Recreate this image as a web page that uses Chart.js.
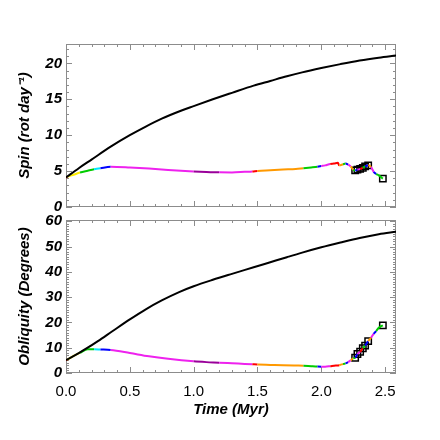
<!DOCTYPE html>
<html>
<head>
<meta charset="utf-8">
<script src="https://cdn.jsdelivr.net/npm/chart.js@4"></script>
<style>
html,body{margin:0;padding:0;background:#fff;}
#wrap{position:relative;width:440px;height:440px;background:#fff;}
canvas{position:absolute;left:0;}
#cTop{top:0;}
#cBot{top:200px;}
</style>
</head>
<body>
<div id="wrap">
<canvas id="cTop" width="440" height="220"></canvas>
<canvas id="cBot" width="440" height="240"></canvas>
</div>
<script>
// ---- data (time in Myr) ----
const tickLabelsX = ["0.0","0.5","1.0","1.5","2.0","2.5"];

// black curves
const spinInitTime = [0, 0.1, 0.2, 0.35, 0.5, 0.625, 0.75, 0.9, 1.0, 1.15, 1.3, 1.47, 1.6, 1.73, 1.85, 2.0, 2.15, 2.3, 2.45, 2.585];
const spinInit     = [4.1, 5.4, 6.6, 8.4, 10.0, 11.2, 12.3, 13.4, 14.05, 15.0, 15.9, 16.9, 17.55, 18.2, 18.75, 19.35, 19.9, 20.4, 20.8, 21.1];

const oblInitTime = [0, 0.1, 0.17, 0.25, 0.36, 0.5, 0.625, 0.75, 0.886, 1.0, 1.15, 1.3, 1.47, 1.6, 1.73, 1.85, 2.0, 2.15, 2.3, 2.45, 2.585];
const oblInit     = [5.1, 7.9, 10.0, 12.6, 16.4, 21.2, 25.2, 28.7, 32.0, 34.3, 36.85, 39.2, 41.8, 43.8, 45.8, 47.6, 49.7, 51.6, 53.4, 54.9, 55.9];

// coloured evolution track
const trackTime = [0, 0.01, 0.06, 0.11, 0.17, 0.22, 0.27, 0.35, 0.5, 0.65, 0.8, 1.0, 1.1, 1.2, 1.3, 1.4, 1.46, 1.5, 1.6, 1.7, 1.8, 1.86, 1.92, 1.97, 2.0, 2.03, 2.07, 2.1, 2.13, 2.14, 2.17, 2.19, 2.21, 2.23, 2.25, 2.265, 2.283, 2.304, 2.325, 2.343, 2.367, 2.39, 2.41, 2.43, 2.45, 2.482];
const trackSpin = [4.1, 4.2, 4.5, 4.8, 5.05, 5.25, 5.4, 5.6, 5.5, 5.35, 5.15, 4.95, 4.88, 4.83, 4.82, 4.9, 4.95, 5.02, 5.12, 5.22, 5.3, 5.4, 5.5, 5.6, 5.7, 5.8, 6.0, 6.05, 6.15, 5.8, 5.95, 6.05, 5.9, 5.65, 5.2, 5.1, 5.2, 5.3, 5.45, 5.65, 5.8, 5.55, 4.9, 4.6, 4.4, 3.95];
const trackObl  = [5.1, 5.3, 6.8, 8.0, 9.4, 9.4, 9.3, 9.1, 7.9, 6.6, 5.6, 4.6, 4.3, 4.1, 3.85, 3.6, 3.45, 3.35, 3.2, 3.05, 2.95, 2.9, 2.7, 2.55, 2.5, 2.5, 2.7, 2.9, 3.0, 3.1, 3.5, 3.8, 4.3, 5.0, 5.8, 6.05, 7.5, 8.4, 9.8, 10.8, 12.6, 14.0, 15.5, 16.6, 17.9, 18.85];

// square markers
const markTime = [2.265, 2.283, 2.304, 2.325, 2.343, 2.367, 2.482];
const markSpin = [5.1, 5.2, 5.3, 5.45, 5.65, 5.8, 3.95];
const markObl  = [6.05, 7.5, 8.4, 9.8, 10.8, 12.6, 18.85];

// ---- styles ----
const C = {r:'#ff0000', y:'#ffee00', g:'#00cc00', c:'#00e5ff', b:'#0000ff', m:'#ee22ee', p:'#990099', o:'#ff9900'};
const segKeys = ['r','y','y','g','g','c','b','m','m','m','m','p','p','m','m','m','r','o','o','o','o','g','g','b','m','m','r','r','r','o','g','b','m','o','g','b','m','r','g','b','o','m','b','g','g'];

function pts(xs, ys){ return xs.map((x,i)=>({x:x, y:ys[i]})); }

const FONT = "'Liberation Sans', Arial, Helvetica, sans-serif";

const framePlugin = {
  id: 'frame',
  beforeDatasetsDraw(chart, args, o) {
    const {ctx, chartArea: a, scales} = chart;
    const x = scales.x, y = scales.y;
    ctx.save();
    ctx.strokeStyle = '#8c8c8c';
    ctx.lineWidth = 1;
    ctx.strokeRect(Math.round(a.left)+0.5, Math.round(a.top)+0.5, Math.round(a.right-a.left)-1, Math.round(a.bottom-a.top)-1);
    ctx.beginPath();
    const eps = 1e-6;
    for (let v = x.min; v <= x.max + eps; v += o.xMinor) {
      const vv = Math.round(v / o.xMinor) * o.xMinor;
      const major = Math.abs(vv / o.xMajor - Math.round(vv / o.xMajor)) < 1e-3;
      const L = major ? 6 : 3;
      const px = Math.round(x.getPixelForValue(vv)) + 0.5;
      ctx.moveTo(px, a.bottom); ctx.lineTo(px, a.bottom - L);
      ctx.moveTo(px, a.top); ctx.lineTo(px, a.top + L);
    }
    for (let v = y.min; v <= y.max + eps; v += o.yMinor) {
      const vv = Math.round(v / o.yMinor) * o.yMinor;
      const major = Math.abs(vv / o.yMajor - Math.round(vv / o.yMajor)) < 1e-3;
      const L = major ? 6 : 3;
      const py = Math.round(y.getPixelForValue(vv)) + 0.5;
      ctx.moveTo(a.left, py); ctx.lineTo(a.left + L, py);
      ctx.moveTo(a.right, py); ctx.lineTo(a.right - L, py);
    }
    ctx.stroke();
    ctx.restore();
  }
};

function datasets(blackT, blackV, trackV, markV) {
  return [
    {data: pts(blackT, blackV), showLine: true, borderColor: '#000', borderWidth: 2, pointRadius: 0, cubicInterpolationMode: 'monotone'},
    {data: pts(trackTime, trackV), showLine: true, borderColor: C.m, borderWidth: 2, pointRadius: 0, cubicInterpolationMode: 'monotone',
      segment: {borderColor: c => C[segKeys[c.p0DataIndex]] || C.m}},
    {data: pts(markTime, markV), showLine: false, pointStyle: 'rect', pointRadius: 4.5, pointBorderColor: '#000',
      borderColor: '#000', pointBorderWidth: 1.5, pointBackgroundColor: 'rgba(0,0,0,0)', backgroundColor: 'rgba(0,0,0,0)'}
  ];
}

const yTickFont = {family: FONT, size: 15, weight: 'bold', style: 'italic'};
const titleFont = {family: FONT, size: 15, weight: 'bold', style: 'italic'};

new Chart(document.getElementById('cTop'), {
  type: 'scatter',
  data: {datasets: datasets(spinInitTime, spinInit, trackSpin, markSpin)},
  options: {
    responsive: false, animation: false, devicePixelRatio: 1,
    layout: {padding: {top: 44, right: 44, left: 0, bottom: 9}},
    plugins: {legend: {display: false}, tooltip: {enabled: false},
      frame: {xMajor: 0.5, xMinor: 0.1, yMajor: 5, yMinor: 1}},
    scales: {
      x: {type: 'linear', min: 0, max: 2.585, display: false},
      y: {type: 'linear', min: 0, max: 22.7,
        afterFit: s => { s.width = 66; },
        grid: {display: false, drawTicks: false}, border: {display: false},
        ticks: {stepSize: 5, includeBounds: false, padding: 4, color: '#000', font: yTickFont},
        title: {display: true, text: 'Spin (rot day⁻¹)', color: '#000', font: titleFont, padding: {top: 16, bottom: 0}}
      }
    }
  },
  plugins: [framePlugin]
});

new Chart(document.getElementById('cBot'), {
  type: 'scatter',
  data: {datasets: datasets(oblInitTime, oblInit, trackObl, markObl)},
  options: {
    responsive: false, animation: false, devicePixelRatio: 1,
    layout: {padding: {top: 20, right: 44, left: 0, bottom: 0}},
    plugins: {legend: {display: false}, tooltip: {enabled: false},
      frame: {xMajor: 0.5, xMinor: 0.1, yMajor: 10, yMinor: 1}},
    scales: {
      x: {type: 'linear', min: 0, max: 2.585,
        afterFit: s => { s.height = 67; },
        grid: {display: false, drawTicks: false}, border: {display: false},
        ticks: {stepSize: 0.5, includeBounds: false, padding: 10, color: '#000', maxRotation: 0,
          font: {family: FONT, size: 15},
          callback: (v) => { const i = Math.round(v / 0.5); return (Math.abs(v - i*0.5) < 1e-6 && tickLabelsX[i]) ? tickLabelsX[i] : ''; }},
        title: {display: true, text: 'Time (Myr)', color: '#000', font: titleFont, padding: {top: 0, bottom: 21}}
      },
      y: {type: 'linear', min: 0, max: 60.5,
        afterFit: s => { s.width = 66; },
        grid: {display: false, drawTicks: false}, border: {display: false},
        ticks: {stepSize: 10, includeBounds: false, padding: 4, color: '#000', font: yTickFont},
        title: {display: true, text: 'Obliquity (Degrees)', color: '#000', font: titleFont, padding: {top: 16, bottom: 0}}
      }
    }
  },
  plugins: [framePlugin]
});
</script>
</body>
</html>
